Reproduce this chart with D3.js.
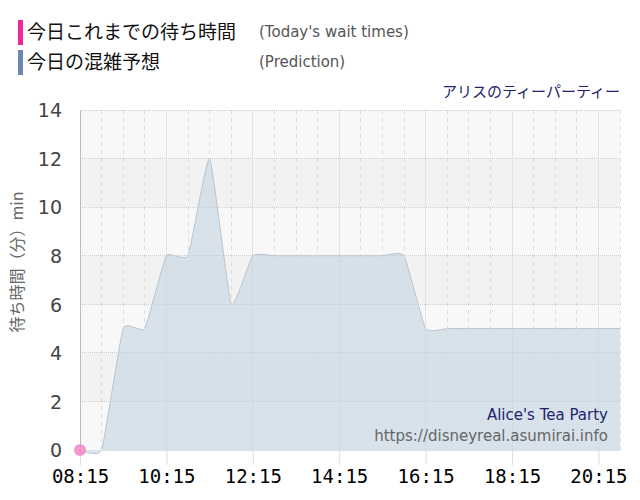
<!DOCTYPE html>
<html><head><meta charset="utf-8">
<script src="https://cdn.jsdelivr.net/npm/d3@7"></script>
<style>body{margin:0;background:#fff}svg{display:block}</style>
</head><body>
<svg id="c" width="640" height="500"></svg>
<script>
const times = ["08:15","08:45","09:15","09:45","10:15","10:45","11:15","11:45","12:15","12:45","13:15","13:45","14:15","14:45","15:15","15:45","16:15","16:45","17:15","17:45","18:15","18:45","19:15","19:45","20:15","20:45"];
const prediction = [0,0,5,5,8,8,12,6,8,8,8,8,8,8,8,8,5,5,5,5,5,5,5,5,5,5];
const todayTimes = ["08:15"];
const todayWaits = [0];
const xTickLabels = ["08:15","10:15","12:15","14:15","16:15","18:15","20:15"];
const yTicks = [0,2,4,6,8,10,12,14];
const legendJP = ["今日これまでの待ち時間","今日の混雑予想"];
const legendEN = ["(Today's wait times)","(Prediction)"];
const titleJP = "アリスのティーパーティー";
const titleEN = "Alice's Tea Party";
const siteUrl = "https://disneyreal.asumirai.info";
const yTitle = "待ち時間（分）min";

const toMin = s => { const [h,m] = s.split(":").map(Number); return h*60+m; };
const svg = d3.select("#c");
const L = 80, R = 620, T = 110, B = 450;
const x = d3.scaleLinear().domain([toMin("08:15"), toMin("20:45")]).range([L, R]);
const y = d3.scaleLinear().domain([0, 14]).range([B, T]);
const jp = "'Noto Sans CJK JP', sans-serif";
const lat = "'DejaVu Sans', Verdana, sans-serif";

// bands
for (let i = 0; i < 7; i++) {
  svg.append("rect").attr("x", L).attr("width", R - L)
    .attr("y", y(i*2+2)).attr("height", y(i*2) - y(i*2+2))
    .attr("fill", i % 2 === 0 ? "#f8f8f8" : "#f2f2f2");
}

// area
const pts = times.map((t,i) => [toMin(t), prediction[i]]);
const crv = d3.curveCardinal.tension(0.6);
const area = d3.area().x(d => x(d[0])).y0(y(0)).y1(d => y(d[1])).curve(crv);
const line = d3.line().x(d => x(d[0])).y(d => y(d[1])).curve(crv);
svg.append("path").datum(pts).attr("d", area).attr("fill", "#c5d5e3").attr("fill-opacity", 0.62);
svg.append("path").datum(pts).attr("d", line).attr("fill", "none").attr("stroke", "#b8c3cd").attr("stroke-width", 1);

// vertical grid
const minorTicks = d3.range(toMin("08:45"), toMin("20:45") + 1, 30);
const majorSet = new Set(xTickLabels.map(toMin));
minorTicks.forEach(m => {
  const major = majorSet.has(m);
  svg.append("line").attr("x1", x(m)).attr("x2", x(m)).attr("y1", T).attr("y2", B)
    .attr("stroke", major ? "#cfcfcf" : "#dddddd").attr("stroke-width", 1)
    .attr("stroke-dasharray", major ? "1,1" : "4,4").attr("shape-rendering","crispEdges");
});
// horizontal grid
yTicks.forEach(v => {
  if (v === 0) return;
  svg.append("line").attr("x1", L).attr("x2", R).attr("y1", y(v)).attr("y2", y(v))
    .attr("stroke", "#cccccc").attr("stroke-dasharray", "1,1").attr("shape-rendering","crispEdges");
});
svg.append("line").attr("x1", L).attr("x2", R).attr("y1", B).attr("y2", B)
  .attr("stroke", "#e2e2e2").attr("shape-rendering","crispEdges");

// x axis
const xAxis = d3.axisBottom(x).tickValues(xTickLabels.map(toMin)).tickSize(15)
  .tickFormat((d,i) => xTickLabels[i]);
const gx = svg.append("g").attr("transform", `translate(0,${B})`).call(xAxis);
gx.select(".domain").remove();
gx.selectAll(".tick line").attr("stroke", "#dddddd");
gx.selectAll(".tick text").attr("y", 33).attr("dy", 0).attr("fill", "#000")
  .style("font-family", "'DejaVu Sans Mono', monospace").style("font-size", "19px");

// y axis
const yAxis = d3.axisLeft(y).tickValues(yTicks).tickSize(0).tickFormat(d3.format("d"));
const gy = svg.append("g").attr("transform", `translate(${L},0)`).call(yAxis);
gy.select(".domain").remove();
gy.selectAll(".tick text").attr("x", -18).attr("dy", "0.36em").attr("fill", "#444")
  .style("font-family", lat).style("font-size", "19px");
svg.append("line").attr("x1", L).attr("x2", L).attr("y1", T).attr("y2", B + 5)
  .attr("stroke", "#bbbbbb").attr("shape-rendering","crispEdges");

// y title
svg.append("text").attr("transform", `translate(23,${262}) rotate(-90)`)
  .attr("text-anchor", "middle").attr("fill", "#666").style("font-family", jp).style("font-size", "16px")
  .text(yTitle);

// today's marker
svg.selectAll("circle.today").data(todayTimes.map((t,i)=>[toMin(t), todayWaits[i]])).enter()
  .append("circle").attr("cx", d => x(d[0])).attr("cy", d => y(d[1])).attr("r", 6)
  .attr("fill", "#f48ec6").attr("fill-opacity", 0.9);

// legend
const legColors = ["#f0259a", "#6d89b3"];
legendJP.forEach((t,i) => {
  const cy = 32 + i*30;
  svg.append("rect").attr("x", 18).attr("y", cy - 12).attr("width", 5).attr("height", 25).attr("fill", legColors[i]);
  svg.append("text").attr("x", 27).attr("y", cy + 7).attr("fill", "#111").style("font-family", jp).style("font-size", "19px").text(t);
  svg.append("text").attr("x", 259).attr("y", cy + 5).attr("fill", "#555").style("font-family", lat).style("font-size", "15px").text(legendEN[i]);
});

// title
svg.append("text").attr("x", 620).attr("y", 97).attr("text-anchor", "end").attr("fill", "#23236e")
  .style("font-family", jp).style("font-size", "15px").text(titleJP);

// watermark
svg.append("text").attr("x", 608).attr("y", 420).attr("text-anchor", "end").attr("fill", "#23236e")
  .style("font-family", lat).style("font-size", "15px").text(titleEN);
svg.append("text").attr("x", 608).attr("y", 441).attr("text-anchor", "end").attr("fill", "#666")
  .style("font-family", lat).style("font-size", "15px").text(siteUrl);
</script>
</body></html>
